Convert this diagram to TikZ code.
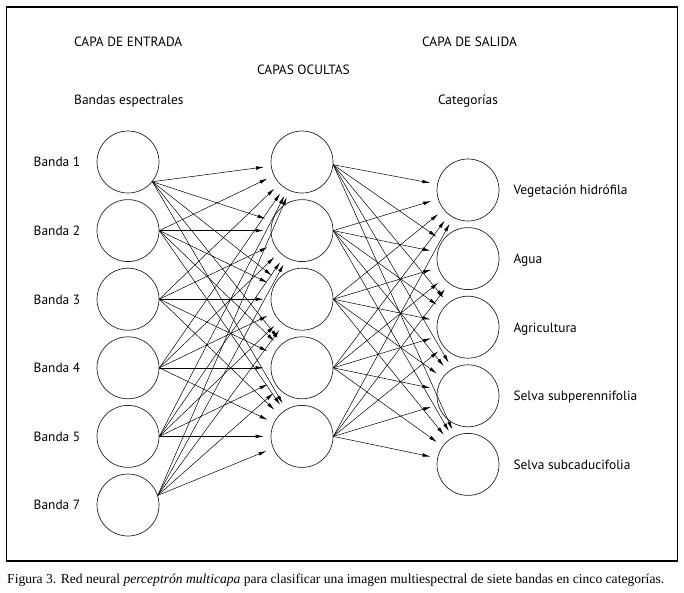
\documentclass[tikz,border=0pt]{standalone}
\usepackage{fontspec}
\setmainfont{Liberation Serif}
\newfontfamily\labelfont{PT Sans}
\usetikzlibrary{positioning,arrows.meta}

\begin{document}
\begin{tikzpicture}[x=1pt, y=-1pt, node distance=68.6pt,
  font=\labelfont\fontsize{13.4}{15}\selectfont,
  neuron/.style={circle, draw=black!85, line width=0.7pt, minimum size=62pt, inner sep=0pt},
  lbl/.style={text height=1.6ex, text depth=0.3ex, inner sep=0pt, yshift=-2pt},
  title/.style={inner sep=0pt},
  link/.style={-{Latex[length=8pt,width=3.6pt]}, line width=0.5pt, shorten >=7pt}]

\useasboundingbox (0,0) rectangle (684,592);
\draw[line width=1.1pt] (6.5,7) rectangle (677.5,561);

%titles
\node[title, anchor=base west] (entrada) at (74,46)    {CAPA DE ENTRADA};
\node[title, anchor=base]      (ocultas) at (303.5,74) {CAPAS OCULTAS};
\node[title, anchor=base]      (salida)  at (469.5,46) {CAPA DE SALIDA};
\node[title, anchor=base west] (bandas)  at (74,104)   {Bandas espectrales};
\node[title, anchor=base]      (categ)   at (468,104)  {Categorías};

%nodes
\node[neuron] (B1) at (128,162) {};
\node[neuron] (B2) [below of=B1] {};
\node[neuron] (B3) [below of=B2] {};
\node[neuron] (B4) [below of=B3] {};
\node[neuron] (B5) [below of=B4] {};
\node[neuron] (B7) [below of=B5] {};

\node[neuron] (H1) at (302,162) {};
\node[neuron] (H2) [below of=H1] {};
\node[neuron] (H3) [below of=H2] {};
\node[neuron] (H4) [below of=H3] {};
\node[neuron] (H5) [below of=H4] {};

\node[neuron] (C1) at (468,190) {};
\node[neuron] (C2) [below of=C1] {};
\node[neuron] (C3) [below of=C2] {};
\node[neuron] (C4) [below of=C3] {};
\node[neuron] (C5) [below of=C4] {};

%labels
\node[lbl] (LB1) [left of=B1, node distance=71pt] {Banda 1};
\node[lbl] (LB2) [left of=B2, node distance=71pt] {Banda 2};
\node[lbl] (LB3) [left of=B3, node distance=71pt] {Banda 3};
\node[lbl] (LB4) [left of=B4, node distance=71pt] {Banda 4};
\node[lbl] (LB5) [left of=B5, node distance=71pt] {Banda 5};
\node[lbl] (LB7) [left of=B7, node distance=71pt] {Banda 7};

\node[lbl] (LC1) [right=14pt of C1] {Vegetación hidrófila};
\node[lbl] (LC2) [right=14pt of C2] {Agua};
\node[lbl] (LC3) [right=14pt of C3] {Agricultura};
\node[lbl] (LC4) [right=14pt of C4] {Selva subperennifolia};
\node[lbl] (LC5) [right=14pt of C5] {Selva subcaducifolia};

%links
\foreach \i/\a in {1/-39, 2/0, 3/0, 4/0, 5/0, 7/18}
  \foreach \j in {1,...,5}
    \draw[link] (B\i.\a) -- (H\j);
\foreach \j/\a in {1/-5, 2/0, 3/0, 4/0, 5/0}
  \foreach \k in {1,...,5}
    \draw[link] (H\j.\a) -- (C\k);

%caption
\node[anchor=base west, inner sep=0pt, font=\rmfamily\fontsize{13.6}{15}\selectfont] (caption) at (7,583)
  {Figura 3. Red neural \textit{perceptrón multicapa} para clasificar una imagen multiespectral de siete bandas en cinco categorías.};
\end{tikzpicture}
\end{document}
